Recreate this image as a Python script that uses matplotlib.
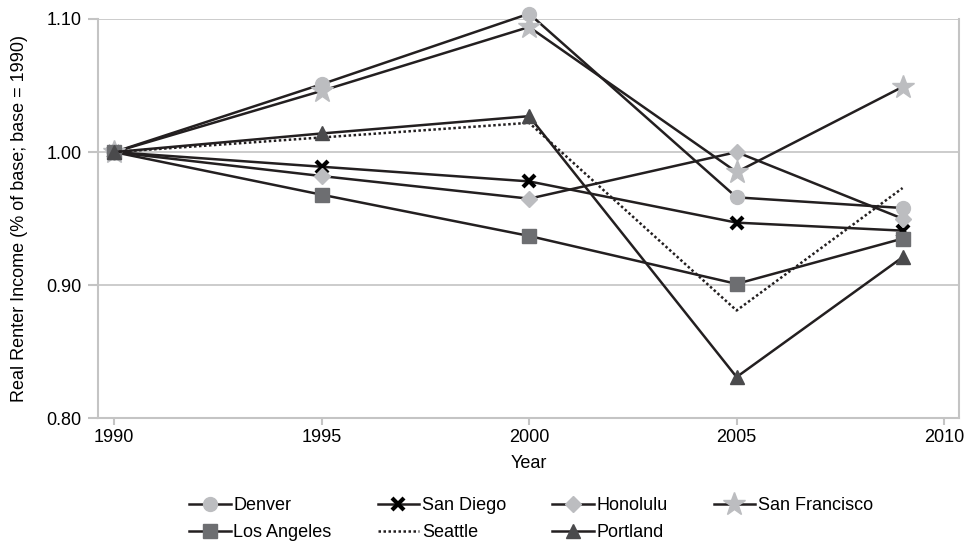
import numpy as np
import matplotlib.pyplot as plt

plt.rcParams['font.family'] = ['Liberation Sans', 'DejaVu Sans']

years = [1990, 1995, 2000, 2005, 2009]
denver = [1.000, 1.051, 1.104, 0.966, 0.958]
san_diego = [1.000, 0.989, 0.978, 0.947, 0.941]
honolulu = [1.000, 0.982, 0.965, 1.000, 0.950]
san_francisco = [1.000, 1.046, 1.094, 0.985, 1.049]
los_angeles = [1.000, 0.968, 0.937, 0.901, 0.935]
seattle = [1.000, 1.011, 1.022, 0.881, 0.973]
portland = [1.000, 1.014, 1.027, 0.831, 0.921]

line_col = '#231f20'
light = '#bcbdc0'
dark = '#6d6e71'
grid_col = '#c4c4c4'

fig = plt.figure(figsize=(9.65, 5.44), dpi=100)
ax = fig.add_axes([98/965, 1-418.3/544, (959-98)/965, (418.3-19)/544])

lw = 1.8
h_den, = ax.plot(years, denver, color=line_col, lw=lw, marker='o', ms=10,
                 mfc=light, mec=light, label='Denver', clip_on=False)
h_sd, = ax.plot(years, san_diego, color=line_col, lw=lw, marker='x', ms=9,
                mew=3, mec='black', label='San Diego')
h_hon, = ax.plot(years, honolulu, color=line_col, lw=lw, marker='D', ms=8,
                 mfc=light, mec=light, label='Honolulu')
h_sf, = ax.plot(years, san_francisco, color=line_col, lw=lw, marker='*', ms=17,
                mfc=light, mec=light, label='San Francisco', clip_on=False)
h_la, = ax.plot(years, los_angeles, color=line_col, lw=lw, marker='s', ms=10,
                mfc=dark, mec=dark, label='Los Angeles')
h_sea, = ax.plot(years, seattle, color=line_col, lw=1.8, ls=(0, (1, 1)),
                 label='Seattle')
h_por, = ax.plot(years, portland, color=line_col, lw=lw, marker='^', ms=10,
                 mfc='#4a4a4c', mec='#4a4a4c', label='Portland')

ax.set_xlim(1989.61, 2010.36)
ax.set_ylim(0.80, 1.10)
ax.set_xticks([1990, 1995, 2000, 2005, 2010])
ax.set_yticks([0.80, 0.90, 1.00, 1.10])
ax.set_yticklabels(['0.80', '0.90', '1.00', '1.10'])
ax.tick_params(labelsize=13, color=grid_col, width=1.5)
ax.tick_params(axis='y', length=7, pad=5)
ax.tick_params(axis='x', length=5, pad=3)
ax.yaxis.grid(True, color=grid_col, lw=1.2)
ax.set_axisbelow(True)
for s in ax.spines.values():
    s.set_color(grid_col)
    s.set_linewidth(1.5)
ax.spines['top'].set_visible(False)

ax.set_xlabel('Year', fontsize=13, labelpad=6)
ax.set_ylabel('Real Renter Income (% of base; base = 1990)', fontsize=13, labelpad=13)

handles = [h_den, h_la, h_sd, h_sea, h_hon, h_por, h_sf]
fig.legend(handles=handles, labels=[h.get_label() for h in handles],
           ncol=4, loc='upper left', bbox_to_anchor=(189/965, 1-497/544),
           frameon=False, fontsize=13, handlelength=2.3, handletextpad=0.15,
           columnspacing=2.55, labelspacing=0.55, borderpad=0, borderaxespad=0)

fig.savefig('out.png', dpi=100)
